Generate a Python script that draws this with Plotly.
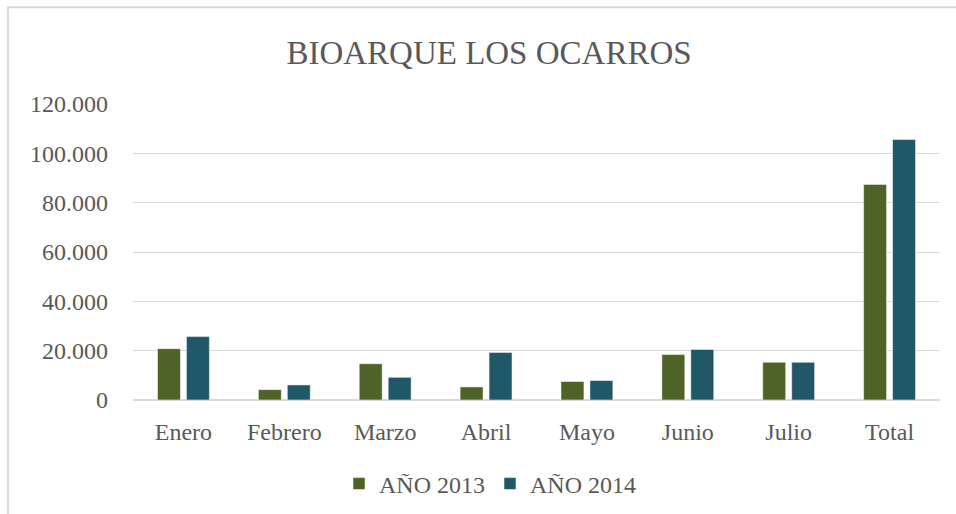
import plotly.graph_objects as go

categories = ["Enero", "Febrero", "Marzo", "Abril", "Mayo", "Junio", "Julio", "Total"]
values_2013 = [20800, 4200, 14700, 5300, 7500, 18400, 15300, 87400]
values_2014 = [25700, 6100, 9200, 19300, 7900, 20500, 15300, 105600]
series_names = ["AÑO 2013", "AÑO 2014"]
y_ticks = [0, 20000, 40000, 60000, 80000, 100000, 120000]

W, H = 956, 514
L, R, T, B = 133, 16, 104, 113.5
pw, ph = W - L - R, H - T - B

def px_x(x):
    return (x - L) / pw

def px_y(y):
    return (H - B - y) / ph

FONT = "Liberation Serif"
TXT = "#595959"

fig = go.Figure()
fig.add_trace(go.Bar(x=categories, y=values_2013, name=series_names[0],
                     marker=dict(color="#4F6228", line=dict(color="rgba(255,255,255,0.5)", width=1))))
fig.add_trace(go.Bar(x=categories, y=values_2014, name=series_names[1],
                     marker=dict(color="#215868", line=dict(color="rgba(255,255,255,0.5)", width=1))))

fig.update_layout(
    width=W, height=H,
    margin=dict(l=L, r=R, t=T, b=B, pad=0),
    paper_bgcolor="white", plot_bgcolor="white",
    separators=",.",
    font=dict(family=FONT, color=TXT, size=24),
    title=dict(text="BIOARQUE LOS OCARROS", x=489 / W, xref="container", xanchor="center",
               y=1 - 52 / H, yref="container", yanchor="middle",
               font=dict(family=FONT, size=33, color=TXT)),
    barmode="group", bargap=0.426, bargroupgap=0.207,
    showlegend=True,
    legend=dict(orientation="h", x=490 / W, xref="container", xanchor="center",
                y=1 - 484 / H, yref="container", yanchor="middle",
                font=dict(family=FONT, size=24, color=TXT), itemwidth=30,
                traceorder="normal"),
    xaxis=dict(showgrid=False, showline=False, ticks="", ticklabelstandoff=15,
               tickfont=dict(family=FONT, size=24, color=TXT)),
    yaxis=dict(range=[0, 120000], tickvals=y_ticks, tickformat=",d", showgrid=True,
               gridcolor="#D9D9D9", gridwidth=1, zeroline=True, zerolinecolor="#D9D9D9",
               zerolinewidth=1.5, showline=False, ticks="", ticklabelstandoff=24,
               tickfont=dict(family=FONT, size=24, color=TXT)),
    shapes=[dict(type="rect", xref="paper", yref="paper",
                 x0=px_x(8), x1=px_x(962), y0=px_y(520), y1=px_y(7),
                 line=dict(color="#D9D9D9", width=2), fillcolor="rgba(0,0,0,0)", layer="below")],
)

fig.write_html("out.html", config={"displayModeBar": False},
               post_script="document.body.style.margin='0';")
